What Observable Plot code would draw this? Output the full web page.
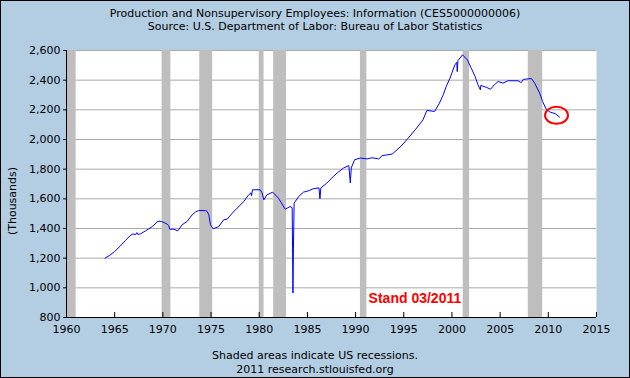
<!DOCTYPE html>
<html>
<head>
<meta charset="utf-8">
<script src="https://cdn.jsdelivr.net/npm/d3@7"></script>
<script src="https://cdn.jsdelivr.net/npm/@observablehq/plot@0.6"></script>
<style>
  html, body { margin: 0; padding: 0; background: #b3cde3; }
  #wrap { position: relative; width: 630px; height: 378px; background: #b3cde3; overflow: hidden; font-family: "DejaVu Sans", Verdana, sans-serif; }
  #wrap svg { position: absolute; left: 0; top: 0; }
  .txt { position: absolute; left: 0; width: 630px; text-align: center; font-size: 11px; line-height: 13px; color: #000; white-space: nowrap; }
  #ylab { position: absolute; left: 12px; top: 201px; font-size: 11px; color: #000; white-space: nowrap; transform: translate(-50%, -50%) rotate(-90deg); }
  #border { position: absolute; left: 0; top: 0; width: 630px; height: 378px; box-sizing: border-box; border: 1px solid #000; pointer-events: none; }
</style>
</head>
<body>
<div id="wrap">
  <div id="chart"></div>
  <div class="txt" style="top:7px">Production and Nonsupervisory Employees: Information (CES5000000006)</div>
  <div class="txt" style="top:20px">Source: U.S. Department of Labor: Bureau of Labor Statistics</div>
  <div id="ylab">(Thousands)</div>
  <div class="txt" style="top:349px">Shaded areas indicate US recessions.</div>
  <div class="txt" style="top:363px">2011 research.stlouisfed.org</div>
  <div id="border"></div>
</div>
<script>
// ---- Data ----
const years = [
  1964.0, 1964.5, 1965.0, 1965.6, 1966.1, 1966.57, 1966.9, 1967.16, 1967.3, 1967.4, 1967.68,
  1968.2, 1968.9, 1969.5, 1969.86, 1970.2, 1970.45, 1970.6, 1970.72, 1971.14, 1971.55,
  1972.0, 1972.5, 1973.04, 1973.4, 1973.73, 1974.42, 1974.6, 1974.77, 1974.94, 1975.22,
  1975.8, 1976.3, 1976.67, 1977.2, 1977.7, 1978.4, 1978.9, 1979.15, 1979.2, 1979.3,
  1980.1, 1980.3, 1980.48, 1980.8, 1981.4, 1982.0, 1982.7, 1983.2, 1983.42, 1983.5,
  1983.55, 1983.62, 1984.1, 1984.6, 1985.2, 1985.6, 1986.2, 1986.3, 1986.4, 1987.0,
  1987.7, 1988.2, 1988.76, 1989.3, 1989.45, 1989.55, 1989.9, 1990.5, 1991.2, 1991.7,
  1992.4, 1992.75, 1993.8, 1994.2, 1994.7, 1995.4, 1996.2, 1997.0, 1997.4, 1998.2,
  1998.7, 1999.1, 1999.4, 1999.8, 2000.3, 2000.5, 2000.55, 2000.62, 2001.1, 2001.6,
  2002.0, 2002.4, 2002.7, 2002.95, 2003.0, 2003.2, 2003.6, 2004.0, 2004.4, 2004.8,
  2005.3, 2005.8, 2006.85, 2007.1, 2007.2, 2007.4, 2008.25, 2008.6, 2009.1, 2009.4,
  2009.8, 2010.2, 2010.7, 2011.17
];
const employees = [
  1200, 1220, 1245, 1283, 1318, 1350, 1364, 1358, 1372, 1360, 1364,
  1384, 1413, 1449, 1447, 1438, 1429, 1420, 1395, 1395, 1384,
  1425, 1447, 1492, 1512, 1521, 1521, 1515, 1492, 1425, 1398,
  1413, 1458, 1463, 1503, 1537, 1582, 1627, 1640, 1620, 1661,
  1661, 1640, 1593, 1627, 1645, 1604, 1530, 1548, 1540, 965,
  1267, 1571, 1616, 1645, 1656, 1668, 1674, 1600, 1674, 1705,
  1752, 1780, 1808, 1824, 1707, 1808, 1864, 1875, 1869, 1877,
  1869, 1891, 1902, 1925, 1954, 2005, 2066, 2133, 2196, 2189,
  2245, 2302, 2357, 2414, 2503, 2520, 2458, 2532, 2571, 2537,
  2481, 2425, 2369, 2335, 2365, 2360, 2351, 2339, 2369, 2391,
  2380, 2396, 2396, 2386, 2384, 2405, 2411, 2378, 2313, 2257,
  2202, 2184, 2175, 2151
];
const recessionStart = [1960.0, 1969.92, 1973.83, 1980.0, 1981.5, 1990.5, 2001.17, 2007.92];
const recessionEnd   = [1961.0, 1970.83, 1975.17, 1980.5, 1982.83, 1991.17, 2001.83, 2009.42];
const xTicks = [1960, 1965, 1970, 1975, 1980, 1985, 1990, 1995, 2000, 2005, 2010, 2015];
const yTicks = [800, 1000, 1200, 1400, 1600, 1800, 2000, 2200, 2400, 2600];
const noteText = ["Stand 03/2011"];
const noteX = [1991.35];
const noteY = [928];
const circleX = [2010.85];
const circleY = [2163];

// ---- Build tables ----
const series = years.map((x, i) => ({x, y: employees[i]}));
const recessions = recessionStart.map((s, i) => ({x1: s, x2: recessionEnd[i]}));
const notes = noteText.map((t, i) => ({t, x: noteX[i], y: noteY[i]}));
const circles = circleX.map((x, i) => ({x, y: circleY[i]}));

const K = 0.5523;
const ellipse = {
  draw(ctx) {
    const a = 11.5, b = 8.5;
    ctx.moveTo(a, 0);
    ctx.bezierCurveTo(a, K * b, K * a, b, 0, b);
    ctx.bezierCurveTo(-K * a, b, -a, K * b, -a, 0);
    ctx.bezierCurveTo(-a, -K * b, -K * a, -b, 0, -b);
    ctx.bezierCurveTo(K * a, -b, a, -K * b, a, 0);
    ctx.closePath();
  }
};

const chart = Plot.plot({
  width: 630,
  height: 378,
  marginTop: 50,
  marginBottom: 61,
  marginLeft: 66,
  marginRight: 34,
  style: {background: "transparent", fontFamily: "DejaVu Sans, Verdana, sans-serif", fontSize: "11px", color: "#000", overflow: "visible"},
  x: {domain: [1960, 2015]},
  y: {domain: [800, 2600]},
  marks: [
    Plot.frame({fill: "white", stroke: "none"}),
    Plot.ruleY(yTicks.filter(d => d > 800), {y: d => d, stroke: "#aaaaaa", strokeWidth: 1}),
    Plot.rect(recessions, {x1: "x1", x2: "x2", fill: "#bebebe"}),
    Plot.line(series, {x: "x", y: "y", stroke: "#0000ff", strokeWidth: 1}),
    Plot.ruleX(xTicks.filter(d => d > 1960), {x: d => d, y1: 800, y2: 800, insetTop: -5, stroke: "#000"}),
    Plot.ruleX([1960], {stroke: "#000"}),
    Plot.ruleY([800], {stroke: "#000"}),
    Plot.axisY({ticks: yTicks, tickFormat: d3.format(","), tickSize: 3, tickPadding: 3, label: null, fontSize: 11}),
    Plot.axisX({ticks: xTicks, tickFormat: d => String(d), tickSize: 0, tickPadding: 8, label: null, fontSize: 11}),
    Plot.text(notes, {x: "x", y: "y", text: "t", textAnchor: "start", fill: "#ff0000", fontWeight: "bold", fontSize: 14, fontFamily: "Liberation Sans, Arial, sans-serif"}),
    Plot.dot(circles, {x: "x", y: "y", symbol: ellipse, stroke: "#ff0000", strokeWidth: 2, fill: "none"})
  ]
});
document.getElementById("chart").appendChild(chart);
</script>
</body>
</html>
